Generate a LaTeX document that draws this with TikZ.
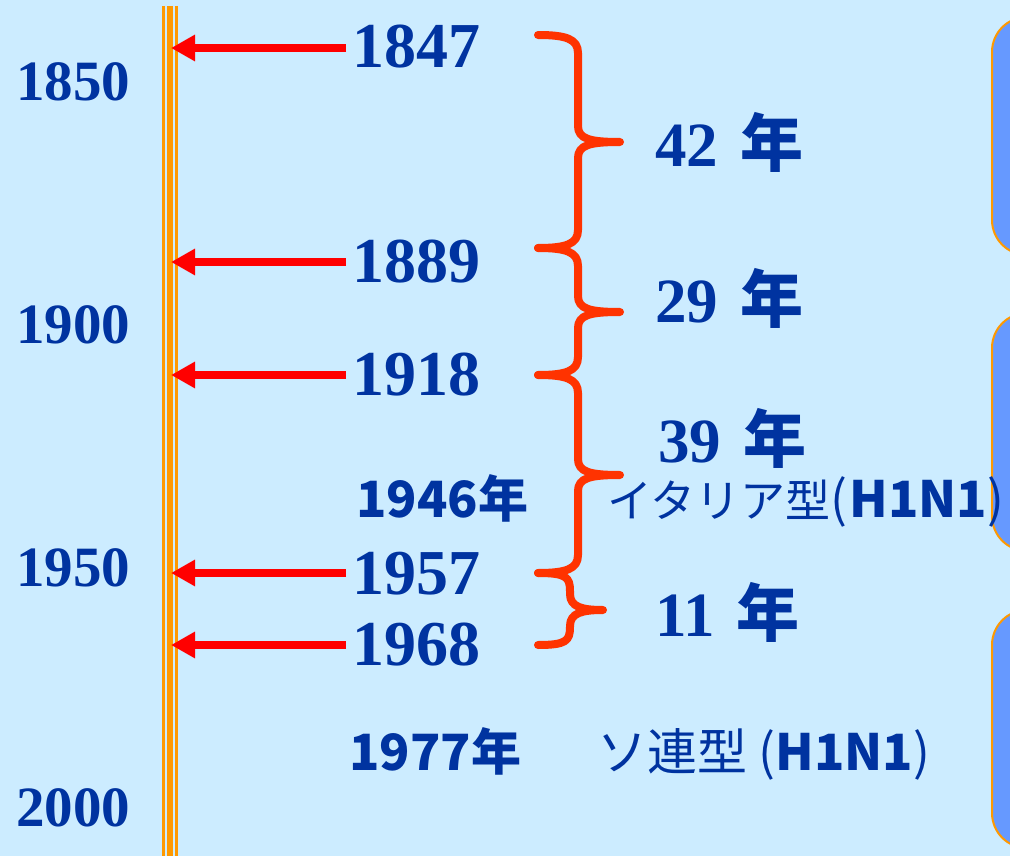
\documentclass[tikz,border=0pt]{standalone}
\usepackage{fontspec}
\setmainfont{Liberation Serif}
\newfontfamily\jp{Noto Sans CJK JP}
\usetikzlibrary{arrows.meta}
\definecolor{bg}{HTML}{CCECFF}
\definecolor{navy}{HTML}{0033A0}
\definecolor{arrred}{HTML}{FF0000}
\definecolor{bracecol}{HTML}{FF3300}
\definecolor{orng}{HTML}{FF9900}
\definecolor{boxblue}{HTML}{6699FF}
\newcommand\mybrace[5]{% top y, mid y, bottom y, vertical x, tip x
  \draw[bracest] (538,#1) .. controls (566,#1) and (#4,#1+4) .. (#4,#1+18)
    -- (#4,#2-16) .. controls (#4,#2-3) and (#4+12,#2) .. (#5,#2)
    .. controls (#4+12,#2) and (#4,#2+3) .. (#4,#2+16)
    -- (#4,#3-18) .. controls (#4,#3-4) and (566,#3) .. (538,#3);}
\newcommand\kana[1]{{\fontsize{45}{45}\selectfont #1}}
\begin{document}
\begin{tikzpicture}[x=1pt,y=-1pt,
  bigyr/.style={anchor=base west,inner sep=0pt,text=navy,font=\fontsize{64}{64}\selectfont\bfseries},
  sideyr/.style={anchor=base west,inner sep=0pt,text=navy,font=\fontsize{57}{57}\selectfont\bfseries},
  span/.style={anchor=base west,inner sep=0pt,text=navy,font=\fontsize{63}{63}\selectfont\bfseries},
  jptxt/.style={anchor=base west,inner sep=0pt,text=navy,font=\jp\fontsize{50}{50}\selectfont},
  arr/.style={draw=arrred,line width=8pt,-{Triangle[length=24pt,width=25pt]}},
  bracest/.style={draw=bracecol,line width=8pt,line cap=round,line join=round},
  panel/.style={fill=boxblue,draw=orng,line width=2pt,rounded corners=35pt},
  tl/.style={draw=orng}]
\fill[bg] (0,0) rectangle (1010,856);
\useasboundingbox (0,0) rectangle (1010,856);
\clip (0,0) rectangle (1010,856);
% panels on the right
\draw[panel] (992,17) rectangle (1090,255);
\draw[panel] (992,313) rectangle (1090,551);
\draw[panel] (992,610) rectangle (1090,848);
% timeline
\draw[tl,line width=2.7pt] (163.3,6) -- (163.3,860);
\draw[tl,line width=5.4pt] (170,6) -- (170,860);
\draw[tl,line width=2.7pt] (176.7,6) -- (176.7,860);
% side years
\node[sideyr] (y1850) at (16,101) {1850};
\node[sideyr] (y1900) at (16,343) {1900};
\node[sideyr] (y1950) at (16,586) {1950};
\node[sideyr] (y2000) at (16,826) {2000};
% pandemic years
\node[bigyr] (p1847) at (352,68) {1847};
\node[bigyr] (p1889) at (352,282) {1889};
\node[bigyr] (p1918) at (352,395) {1918};
\node[bigyr] (p1957) at (352,594) {1957};
\node[bigyr] (p1968) at (352,665) {1968};
\coordinate (t1) at (171,48);
\coordinate (t2) at (171,262);
\coordinate (t3) at (171,375);
\coordinate (t4) at (171,573);
\coordinate (t5) at (171,645);
\draw[arr] ([xshift=-6pt]t1 -| p1847.west) -- (t1);
\draw[arr] ([xshift=-6pt]t2 -| p1889.west) -- (t2);
\draw[arr] ([xshift=-6pt]t3 -| p1918.west) -- (t3);
\draw[arr] ([xshift=-6pt]t4 -| p1957.west) -- (t4);
\draw[arr] ([xshift=-6pt]t5 -| p1968.west) -- (t5);
% braces
\mybrace{35}{142}{248}{578}{620}
\mybrace{248}{312}{375}{578}{620}
\mybrace{375}{475}{573}{578}{620}
\mybrace{573}{610}{645}{570}{603}
% interval labels
\node[span] (s42) at (655,167) {42\hspace{22pt}{\jp 年}};
\node[span] (s29) at (655,322) {29\hspace{22pt}{\jp 年}};
\node[span] (s39) at (658,462) {39\hspace{22pt}{\jp 年}};
\node[span] (s11) at (655,636) {11\hspace{22pt}{\jp 年}};
% subtypes
\node[jptxt] (e1946) at (356,517) {\bfseries 1946年};
\node[jptxt] (i1946) at (607,517) {\kana{イタリア型}(\hspace{2pt}{\bfseries H1N1})};
\node[jptxt] (e1977) at (349,770) {\bfseries 1977年};
\node[jptxt] (s1977) at (597,770) {ソ連型 ({\bfseries H1N1})};
\end{tikzpicture}
\end{document}
